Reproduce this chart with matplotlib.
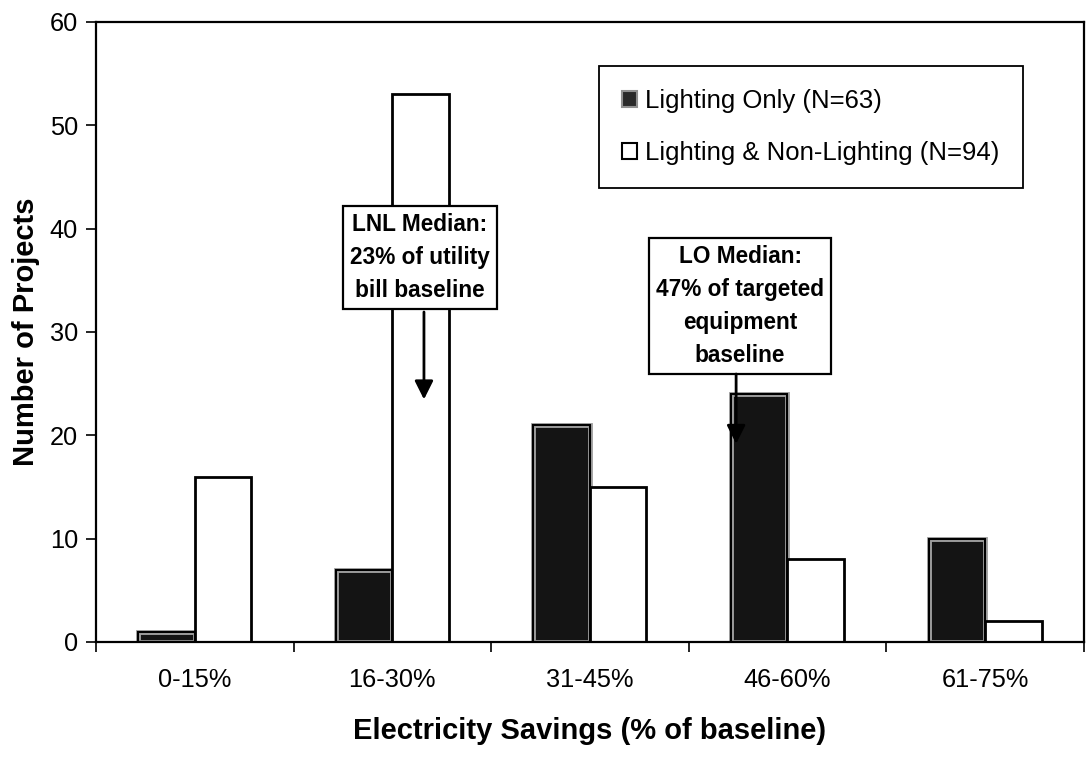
import numpy as np
import matplotlib
matplotlib.use('Agg')
import matplotlib.pyplot as plt
from matplotlib.patches import Patch

plt.rcParams['font.family'] = ['Liberation Sans', 'DejaVu Sans']

categories = ['0-15%', '16-30%', '31-45%', '46-60%', '61-75%']
lighting_only = [1, 7, 21, 24, 10]
lighting_non_lighting = [16, 53, 15, 8, 2]

fig = plt.figure(figsize=(10.86, 7.57), dpi=100)
ax = fig.add_axes([0.0884, 0.152, 0.9096, 0.819])

x = np.arange(len(categories))
w = 0.286

# dark textured bars: grey rim + black core, then black outline
ax.bar(x - w / 2, lighting_only, w, color='#141414', edgecolor='#a0a0a0',
       linewidth=3.5, zorder=2)
ax.bar(x - w / 2, lighting_only, w, fill=False, edgecolor='black',
       linewidth=1.5, zorder=3)
ax.bar(x + w / 2, lighting_non_lighting, w, color='white', edgecolor='black',
       linewidth=2, zorder=2)

ax.set_xlim(-0.5, len(categories) - 0.5)
ax.set_ylim(0, 60)
ax.set_yticks(range(0, 61, 10))
ax.set_xticks(np.arange(-0.5, len(categories), 1.0))
ax.set_xticklabels([])
ax.set_xticks(x, minor=True)
ax.set_xticklabels(categories, minor=True)
ax.tick_params(axis='x', which='major', direction='out', length=7, width=1.2)
ax.tick_params(axis='x', which='minor', length=0, pad=19, labelsize=18.3)
ax.tick_params(axis='y', direction='out', length=7, width=1.2, labelsize=18.3, pad=6)
for s in ax.spines.values():
    s.set_linewidth(1.6)

ax.set_xlabel('Electricity Savings (% of baseline)', fontsize=21,
              fontweight='bold', labelpad=18)
ax.set_ylabel('Number of Projects', fontsize=21, fontweight='bold', labelpad=7)

# legend
handles = [Patch(facecolor='#2a2a2a', edgecolor='#909090', linewidth=1.5),
           Patch(facecolor='white', edgecolor='black', linewidth=1.5)]
leg = ax.legend(handles, ['Lighting Only (N=63)', 'Lighting & Non-Lighting (N=94)'],
                loc='upper left', bbox_to_anchor=(0.509, 0.929), fontsize=18.5,
                handlelength=0.6, handleheight=0.6, handletextpad=0.3,
                labelspacing=1.1, borderpad=0.9, borderaxespad=0,
                fancybox=False, framealpha=1, edgecolor='black')
leg.get_frame().set_linewidth(1.3)

# median annotations
box = dict(boxstyle='square,pad=0.3', facecolor='white', edgecolor='black',
           linewidth=1.6)
ax.text(1.14, 37.2, 'LNL Median:\n23% of utility\nbill baseline', ha='center',
        va='center', fontsize=16.3, fontweight='bold', linespacing=1.55,
        bbox=box, zorder=5)
ax.annotate('', xy=(1.16, 23.2), xytext=(1.16, 32.2),
            arrowprops=dict(arrowstyle='-|>', color='black', lw=2,
                            mutation_scale=28), zorder=6)

ax.text(2.76, 32.5, 'LO Median:\n47% of targeted\nequipment\nbaseline',
        ha='center', va='center', fontsize=16.3, fontweight='bold',
        linespacing=1.55, bbox=box, zorder=5)
ax.annotate('', xy=(2.74, 18.9), xytext=(2.74, 26.2),
            arrowprops=dict(arrowstyle='-|>', color='black', lw=2,
                            mutation_scale=28), zorder=6)

plt.savefig('out.png', dpi=100)
plt.close()
